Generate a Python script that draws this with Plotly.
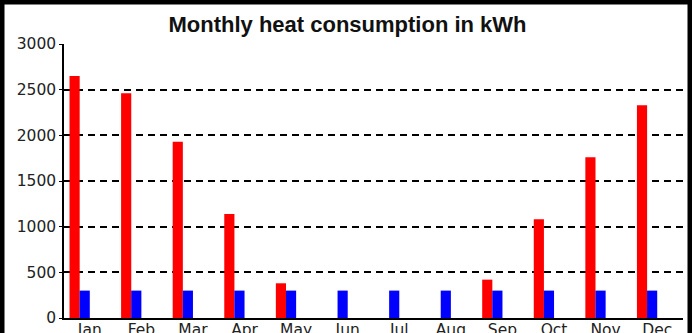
import plotly.graph_objects as go

months = ["Jan", "Feb", "Mar", "Apr", "May", "Jun", "Jul", "Aug", "Sep", "Oct", "Nov", "Dec"]
heat_red = [2650, 2460, 1930, 1140, 380, 0, 0, 0, 420, 1080, 1760, 2330]
heat_blue = [300, 300, 300, 300, 300, 300, 300, 300, 300, 300, 300, 300]
y_ticks = [0, 500, 1000, 1500, 2000, 2500, 3000]

W, H = 692, 333
ML, MR, MT, MB = 64, 9, 44, 15
pw = W - ML - MR
ph = H - MT - MB

fig = go.Figure()
fig.add_trace(go.Bar(x=months, y=heat_red, marker=dict(color="#ff0000", line=dict(width=0)),
                     width=0.197, offset=-0.393, showlegend=False))
fig.add_trace(go.Bar(x=months, y=heat_blue, marker=dict(color="#0000ff", line=dict(width=0)),
                     width=0.197, offset=-0.197, showlegend=False))

fig.update_layout(
    width=W, height=H,
    margin=dict(l=ML, r=MR, t=MT, b=MB, pad=0),
    paper_bgcolor="white", plot_bgcolor="white",
    barmode="overlay",
    title=dict(text="<b>Monthly heat consumption in kWh</b>", x=347.5 / W, xanchor="center",
               xref="container", yref="container", y=1 - 24 / H, yanchor="middle",
               font=dict(family="Liberation Sans, Arial", size=22, color="#111111")),
    font=dict(family="DejaVu Sans", size=15.5, color="#222222"),
    xaxis=dict(type="category", range=[-0.5, 11.5], showgrid=False, showline=True,
               linecolor="black", linewidth=1.5, ticks="", automargin=False,
               ticklabelstandoff=-3,
               tickfont=dict(family="DejaVu Sans", size=15.5, color="#222222"), fixedrange=True),
    yaxis=dict(range=[0, 3000], tickvals=y_ticks, showgrid=True, gridcolor="black",
               gridwidth=2, griddash="7px,5px", zeroline=False, showline=True,
               linecolor="black", linewidth=1.5, ticks="outside", ticklen=3,
               tickcolor="black", automargin=False,
               tickfont=dict(family="DejaVu Sans", size=15.5, color="#222222"), fixedrange=True),
    shapes=[dict(type="rect", xref="paper", yref="paper",
                 x0=-ML / pw, x1=(W - ML) / pw, y0=-(MB + 20) / ph, y1=(H - MB) / ph,
                 line=dict(color="black", width=9), fillcolor="rgba(0,0,0,0)", layer="above")],
)

fig.write_html("out.html")
